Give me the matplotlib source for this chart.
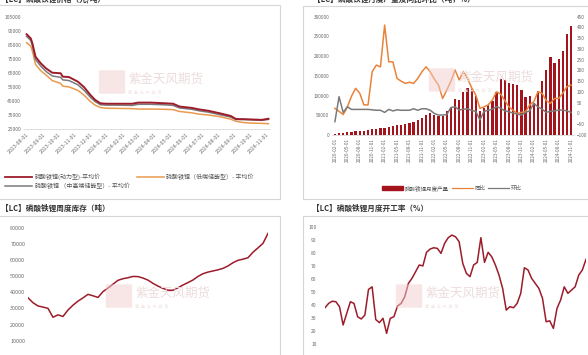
import matplotlib
matplotlib.use("Agg")
import matplotlib.pyplot as plt
import matplotlib.dates as mdates
from matplotlib.patches import Rectangle, FancyBboxPatch
from matplotlib.lines import Line2D
import pandas as pd

plt.rcParams['font.family'] = ['Noto Sans CJK SC', 'DejaVu Sans']

# ---------------- data ----------------
# panel 1: price (yuan/ton)
price_dates = ["2023-08-01", "2023-08-09", "2023-08-12", "2023-08-18", "2023-08-28", "2023-09-07",
               "2023-09-19", "2023-10-05", "2023-10-09", "2023-10-21", "2023-11-07", "2023-11-19",
               "2023-12-01", "2023-12-10", "2023-12-20", "2023-12-31", "2024-01-20", "2024-02-19",
               "2024-03-01", "2024-03-25", "2024-04-22", "2024-05-07", "2024-05-19", "2024-06-12",
               "2024-06-25", "2024-07-13", "2024-08-04", "2024-08-25", "2024-09-04", "2024-09-20",
               "2024-10-04", "2024-10-23", "2024-11-05"]
price_power = [92500, 89500, 86000, 76500, 71800, 68200, 65100, 64700, 62300, 62000, 58700, 54700,
               49200, 45700, 43300, 43000, 43000, 43000, 43800, 43800, 43300, 43000, 41000, 40000,
               39000, 38000, 36200, 34300, 32100, 32000, 31800, 31500, 32300]
price_low = [86500, 84000, 80500, 71000, 66500, 63500, 59500, 57500, 55500, 55000, 52500, 49000,
             44500, 42000, 40300, 39800, 39700, 39500, 39200, 39200, 39000, 38800, 37500, 36500,
             35600, 35000, 33800, 32000, 30500, 29500, 29200, 29000, 28800]
price_mid = [91000, 88000, 84500, 74500, 69800, 66000, 62800, 61800, 60000, 59500, 56500, 52500,
             47500, 44500, 42300, 42000, 42000, 41800, 42600, 42600, 42200, 41800, 40000, 39000,
             38000, 37000, 35200, 33500, 31800, 31700, 31500, 31200, 31800]
price_labels = ["磷酸铁锂(动力型)-平均价", "磷酸铁锂（低端储能型）- 平均价", "磷酸铁锂 （中高端储能型）- 平均价"]

# panel 2: monthly output (ton) and yoy / mom (%)
prod_months = pd.date_range("2020-02-01", periods=58, freq="MS")
prod = [3000, 5000, 6000, 7000, 8000, 9000, 10000, 11000, 12500, 14000, 16000, 17000, 18000, 20000,
        23000, 25000, 26000, 28000, 30000, 33000, 37000, 42000, 50000, 56000, 50000, 48000, 47000,
        60000, 68000, 92000, 88000, 110000, 120000, 118000, 100000, 60000, 68000, 75000, 85000,
        108000, 142000, 140000, 133000, 130000, 128000, 113000, 96000, 99000, 80000, 112000, 138000,
        165000, 198000, 183000, 192000, 212000, 255000, 277000]
yoy = [24, 10, -5, 30, 80, 117, 94, 40, 40, 194, 225, 217, 411, 240, 240, 163, 150, 140, 145, 140,
       163, 194, 217, 194, 160, 132, 70, 109, 150, 202, 156, 194, 163, 120, 86, 24, 31, 40, 63, 101,
       90, 60, 31, 15, 0, 5, 8, 40, 55, 101, 94, 60, 47, 70, 70, 94, 125, 132]
mom = [-38, 78, 5, 31, 19, 19, 19, 19, 19, 17, 15, 15, 5, 19, 12, 17, 15, 15, 15, 22, 15, 22, 22, 15,
       0, -7, -7, -5, 28, 31, 16, 20, 22, 14, 10, -30, 10, 15, 20, 31, 25, 12, 8, 2, -3, -7, 5, 12,
       47, 31, 20, 5, 10, 12, 16, 16, 12, 5]

# panel 3: weekly inventory (ton)
inventory = [36600, 33500, 31500, 30800, 30000, 24500, 26000, 25000, 29000, 32000, 34500, 36500,
             38700, 37800, 36800, 40400, 42600, 45000, 47400, 48400, 49000, 49800, 49700, 48800,
             47500, 45500, 43800, 42400, 41300, 41200, 42800, 44500, 46000, 47600, 49800, 51500,
             52500, 53200, 53900, 54800, 56300, 58300, 59800, 60500, 61400, 64800, 67500, 70300, 76500]

# panel 4: monthly operating rate (%)
op_rate = [38, 41.3, 43, 42.6, 38.8, 24.8, 33.7, 42.6, 41.3, 31.1, 29.4, 32.4, 52, 54, 29, 26.6,
           29.9, 18.4, 29.9, 31.1, 39.3, 41.3, 46.4, 56.6, 60.5, 65.6, 70.7, 70, 80.4, 82.9, 83.9,
           83.4, 79.6, 87.3, 91.6, 93.6, 92.3, 88.5, 72, 64.3, 61.8, 70.7, 72.7, 91.6, 72.7, 80.4,
           77, 70.7, 63, 52.8, 36.2, 38.8, 38, 41.3, 49, 68.6, 66.9, 60.5, 56.6, 52.8, 45.2, 27.3,
           28, 22.2, 37.5, 43.9, 54, 49, 51.5, 54, 63, 66.9, 75]

titles = ["【LC】磷酸铁锂价格（元/吨）", "【LC】磷酸铁锂月度产量及同比环比（吨，%）",
          "【LC】磷酸铁锂周度库存（吨）", "【LC】磷酸铁锂月度开工率（%）"]

RED = "#9c1c2b"
BAR = "#a3141d"
ORANGE = "#e89a4f"
ORANGE2 = "#e8833a"
GRAY = "#7a7a7a"
TICK = "#6b6b6b"

W, H = 588, 355
fig = plt.figure(figsize=(W / 100, H / 100), dpi=100)
fig.patch.set_facecolor("white")


def add_ax(l, t, r, b):
    return fig.add_axes([l / W, 1 - b / H, (r - l) / W, (b - t) / H])


def box(l, t, r, b):
    fig.patches.append(Rectangle((l / W, 1 - b / H), (r - l) / W, (b - t) / H,
                                 transform=fig.transFigure, fill=False,
                                 edgecolor="#d6d6d6", lw=0.8, zorder=0))


def watermark(cx, cy):
    fig.patches.append(FancyBboxPatch(((cx - 38) / W, 1 - (cy + 11) / H), 24 / W, 22 / H,
                                      boxstyle="round,pad=0.002", transform=fig.transFigure,
                                      facecolor="#f2cfcf", edgecolor="none", alpha=0.5, zorder=0))
    fig.text((cx - 10) / W, 1 - (cy - 3) / H, "紫金天风期货", fontsize=9, color="#ecdcdc",
             va="center", ha="left", zorder=0)
    fig.text((cx - 10) / W, 1 - (cy + 10) / H, "紫  金  天  风  期  货", fontsize=3,
             color="#f0e4e4", va="center", ha="left", zorder=0)


def style(ax, size=3.6):
    for s in ax.spines.values():
        s.set_visible(False)
    ax.tick_params(axis="both", length=0, labelsize=size, labelcolor=TICK, pad=2)
    ax.patch.set_alpha(0)


# panel boxes and titles
box(-2, 5.5, 280, 199)
box(303, 6, 592, 199)
box(-2, 216, 280, 360)
box(303, 216, 592, 360)
fig.text(1 / W, 1 - (-1) / H, titles[0], fontsize=5.5, fontweight="bold", color="#333333", va="center")
fig.text(313 / W, 1 - (-1) / H, titles[1], fontsize=5.5, fontweight="bold", color="#333333", va="center")
fig.text(1 / W, 1 - 208 / H, titles[2], fontsize=5.5, fontweight="bold", color="#333333", va="center")
fig.text(312 / W, 1 - 208 / H, titles[3], fontsize=5.5, fontweight="bold", color="#333333", va="center")

watermark(138, 82)
watermark(468, 80)
watermark(145, 296)
watermark(435, 296)

# ---- panel 1: prices ----
ax1 = add_ax(24, 16.7, 270, 129)
d = pd.to_datetime(price_dates)
ax1.plot(d, price_low, color=ORANGE, lw=1.1)
ax1.plot(d, price_mid, color=GRAY, lw=1.1)
ax1.plot(d, price_power, color=RED, lw=1.4)
ax1.set_ylim(25000, 105000)
ax1.set_yticks(range(25000, 105001, 10000))
ax1.set_xlim(pd.Timestamp("2023-07-27"), pd.Timestamp("2024-11-08"))
ax1.set_xticks(pd.date_range("2023-08-01", "2024-11-01", freq="MS"))
ax1.xaxis.set_major_formatter(mdates.DateFormatter("%Y-%m-%d"))
style(ax1, 3.6)
ax1.spines["bottom"].set_visible(True)
ax1.spines["bottom"].set_color("#d9d9d9")
ax1.spines["bottom"].set_linewidth(0.6)
for lab in ax1.get_xticklabels():
    lab.set_rotation(45)
    lab.set_ha("right")
    lab.set_rotation_mode("anchor")
    lab.set_fontsize(3.8)
# column-major order: col 1 = power, mid ; col 2 = low
h1 = [Line2D([], [], color=RED, lw=1.3), Line2D([], [], color=GRAY, lw=1.1),
      Line2D([], [], color=ORANGE, lw=1.1)]
fig.legend(h1, [price_labels[0], price_labels[2], price_labels[1]], loc="upper left",
           bbox_to_anchor=(3 / W, 1 - 171 / H), ncol=2,
           frameon=False, fontsize=4.3, handlelength=4.5, handletextpad=0.4, columnspacing=1.2,
           labelspacing=0.45, borderaxespad=0, labelcolor="#555555")

# ---- panel 2: output ----
ax2 = add_ax(332, 16.7, 574, 135)
idx = list(range(len(prod)))
ax2.bar(idx, prod, width=0.55, color=BAR, zorder=2)
ax2.set_ylim(0, 300000)
ax2.set_yticks(range(0, 300001, 50000))
ax2.set_xlim(-0.7, len(prod) - 0.3)
ax2.set_xticks(idx[::3])
ax2.set_xticklabels([m.strftime("%Y-%m-%d") for m in prod_months[::3]], rotation=90)
style(ax2, 3.4)
ax2.spines["bottom"].set_visible(True)
ax2.spines["bottom"].set_color("#d9d9d9")
ax2.spines["bottom"].set_linewidth(0.6)
for lab in ax2.get_xticklabels():
    lab.set_fontsize(3.3)
ax2b = ax2.twinx()
ax2b.plot(idx, yoy, color=ORANGE2, lw=1.1, zorder=3)
ax2b.plot(idx, mom, color=GRAY, lw=1.1, zorder=3)
ax2b.set_ylim(-100, 450)
ax2b.set_yticks(range(-100, 451, 50))
style(ax2b, 3.4)
h2 = [Rectangle((0, 0), 1, 1, color=BAR), Line2D([], [], color=ORANGE2, lw=0.9),
      Line2D([], [], color=GRAY, lw=0.9)]
fig.legend(h2, ["磷酸铁锂月度产量", "同比", "环比"], loc="center", bbox_to_anchor=(452 / W, 1 - 188 / H),
           ncol=3, frameon=False, fontsize=4.0, handlelength=3.8, handleheight=0.5,
           handletextpad=0.3, columnspacing=0.5, borderaxespad=0, labelcolor="#555555")

# ---- panel 3: inventory ----
ax3 = add_ax(28, 227.7, 268, 356.8)
ax3.plot(range(len(inventory)), inventory, color=RED, lw=1.1)
ax3.set_ylim(0, 80000)
ax3.set_yticks(range(0, 80001, 10000))
ax3.set_xlim(0, len(inventory) - 1)
ax3.set_xticks([])
style(ax3, 3.9)

# ---- panel 4: operating rate ----
ax4 = add_ax(325, 226.7, 586, 357.4)
ax4.plot(range(len(op_rate)), op_rate, color=RED, lw=1.1)
ax4.set_ylim(0, 100)
ax4.set_yticks(range(0, 101, 10))
ax4.set_xlim(0, len(op_rate) - 1)
ax4.set_xticks([])
style(ax4, 3.6)
ax4.tick_params(axis="y", pad=6)

fig.savefig("out.png", dpi=100)
